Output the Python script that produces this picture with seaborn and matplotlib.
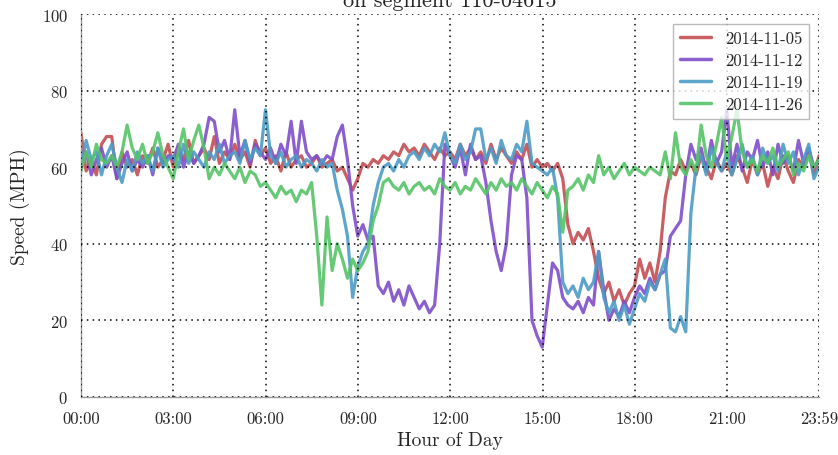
import numpy as np
import pandas as pd
import matplotlib
matplotlib.use("Agg")
import matplotlib.pyplot as plt
import seaborn as sns

# speeds every ~10 minutes from 00:00 to 23:59 (145 samples per day)
dates = ["2014-11-05", "2014-11-12", "2014-11-19", "2014-11-26"]
colors = ["#c44e52", "#7f4fc9", "#4c9bc6", "#55c467"]

speed_1105 = [
    69, 59, 62, 58, 66, 68, 68, 57, 64, 60, 62, 58,
    63, 61, 65, 60, 62, 66, 60, 64, 62, 67, 61, 63,
    65, 62, 68, 61, 64, 62, 66, 62, 64, 60, 67, 63,
    65, 61, 63, 59, 64, 60, 62, 63, 60, 61, 63, 60,
    61, 62, 59, 60, 57, 54, 57, 61, 60, 62, 61, 63,
    62, 64, 63, 66, 64, 65, 63, 66, 64, 62, 65, 63,
    64, 62, 66, 63, 65, 62, 64, 61, 66, 62, 65, 63,
    61, 64, 62, 66, 60, 62, 60, 61, 59, 61, 57, 45,
    40, 43, 41, 44, 38, 31, 27, 30, 25, 28, 24, 27,
    29, 36, 31, 35, 30, 38, 52, 59, 58, 62, 59, 61,
    58, 63, 60, 57, 62, 59, 61, 58, 63, 60, 56, 62,
    58, 61, 55, 60, 57, 63, 59, 56, 62, 60, 64, 58, 63,
]
speed_1112 = [
    61, 64, 58, 62, 65, 60, 63, 57, 61, 64, 59, 62,
    60, 63, 58, 65, 61, 63, 62, 66, 60, 64, 61, 63,
    66, 73, 72, 64, 67, 62, 75, 63, 67, 61, 66, 64,
    62, 65, 61, 66, 63, 72, 61, 72, 64, 62, 63, 61,
    63, 62, 68, 71, 62, 50, 42, 45, 41, 42, 29, 27,
    30, 25, 28, 24, 29, 26, 23, 25, 22, 24, 40, 66,
    63, 60, 65, 58, 66, 62, 63, 56, 46, 38, 33, 40,
    58, 63, 62, 52, 20, 16, 13, 24, 35, 33, 26, 24,
    23, 25, 22, 26, 24, 38, 28, 20, 23, 21, 25, 22,
    26, 29, 27, 31, 28, 32, 33, 42, 44, 46, 58, 66,
    62, 65, 59, 67, 61, 64, 75, 60, 66, 59, 64, 62,
    67, 60, 64, 58, 66, 61, 63, 59, 67, 61, 65, 60, 62,
]
speed_1119 = [
    60, 67, 62, 64, 58, 63, 66, 60, 56, 62, 59, 64,
    61, 63, 59, 65, 60, 62, 63, 60, 66, 61, 64, 62,
    60, 64, 62, 66, 61, 63, 64, 61, 67, 62, 65, 63,
    75, 63, 61, 64, 60, 62, 63, 60, 62, 61, 59, 62,
    60, 61, 54, 49, 42, 26, 34, 38, 40, 50, 56, 60,
    61, 59, 62, 60, 63, 64, 62, 65, 63, 66, 64, 69,
    63, 61, 66, 62, 64, 70, 70, 62, 65, 61, 67, 63,
    62, 66, 64, 72, 61, 60, 59, 58, 60, 52, 30, 27,
    29, 26, 31, 28, 30, 38, 26, 22, 25, 20, 24, 19,
    23, 27, 25, 30, 28, 32, 36, 18, 17, 21, 17, 48,
    60, 63, 58, 65, 61, 59, 64, 58, 62, 66, 60, 63,
    58, 65, 61, 63, 59, 66, 61, 64, 58, 62, 66, 57, 60,
]
speed_1126 = [
    59, 64, 60, 66, 62, 61, 63, 60, 64, 71, 65, 62,
    66, 61, 64, 69, 63, 60, 57, 64, 70, 62, 67, 71,
    65, 57, 60, 58, 61, 59, 57, 60, 56, 59, 58, 55,
    56, 54, 52, 55, 53, 54, 51, 54, 53, 56, 42, 24,
    47, 33, 40, 36, 31, 36, 33, 35, 38, 46, 50, 56,
    57, 55, 54, 56, 53, 55, 56, 54, 55, 53, 57, 55,
    54, 56, 53, 55, 54, 57, 55, 53, 56, 54, 57, 55,
    56, 54, 57, 55, 53, 56, 54, 52, 55, 53, 43, 54,
    55, 57, 54, 58, 56, 63, 58, 60, 57, 59, 61, 58,
    60, 59, 58, 60, 59, 58, 64, 57, 69, 60, 58, 62,
    59, 71, 63, 60, 66, 73, 62, 68, 75, 64, 60, 62,
    59, 63, 61, 65, 60, 62, 64, 58, 61, 59, 63, 60, 62,
]

tick_minutes = [0, 180, 360, 540, 720, 900, 1080, 1260, 1439]
tick_labels = ["00:00", "03:00", "06:00", "09:00", "12:00",
               "15:00", "18:00", "21:00", "23:59"]

series = [speed_1105, speed_1112, speed_1119, speed_1126]
minutes = np.linspace(0, 1439, len(speed_1105))
df = pd.concat(
    [pd.DataFrame({"minute": minutes, "speed": s, "date": d}) for s, d in zip(series, dates)],
    ignore_index=True,
)

sns.set_style("white")
plt.rcParams["font.family"] = ["cmr10", "DejaVu Serif"]
plt.rcParams["axes.formatter.use_mathtext"] = True
plt.rcParams["axes.unicode_minus"] = False

fig = plt.figure(figsize=(8.38, 4.56), dpi=100)
ax = fig.add_axes([81 / 838, 58 / 456, 738 / 838, 383 / 456])

sns.lineplot(data=df, x="minute", y="speed", hue="date", palette=colors,
             linewidth=2.3, alpha=0.9, ax=ax)

ax.set_xlim(0, 1439)
ax.set_ylim(0, 100)
ax.set_xticks(tick_minutes)
ax.set_xticklabels(tick_labels)
ax.set_yticks([0, 20, 40, 60, 80, 100])
ax.tick_params(labelsize=12, direction="out", length=6, color="#999999", width=1)
ax.set_axisbelow(False)
ax.grid(True, color="black", linestyle=(0, (1, 2.8)), linewidth=1.1)

for side in ["top", "right"]:
    ax.spines[side].set_visible(False)
for side in ["left", "bottom"]:
    ax.spines[side].set_color("#999999")
    ax.spines[side].set_linewidth(1)

ax.set_xlabel("Hour of Day", fontsize=14, labelpad=4)
ax.set_ylabel("Speed (MPH)", fontsize=14, labelpad=8)
ax.set_title("on segment 110-04615", fontsize=16, pad=6)

leg = ax.legend(loc="upper right", fontsize=12, frameon=True, fancybox=False,
                borderaxespad=0.6, handlelength=1.9, labelspacing=0.4)
leg.get_frame().set_edgecolor("#aaaaaa")
leg.get_frame().set_linewidth(1)
leg.set_zorder(5)
for line in leg.get_lines():
    line.set_linewidth(2.5)

fig.savefig("out.png", dpi=100)
